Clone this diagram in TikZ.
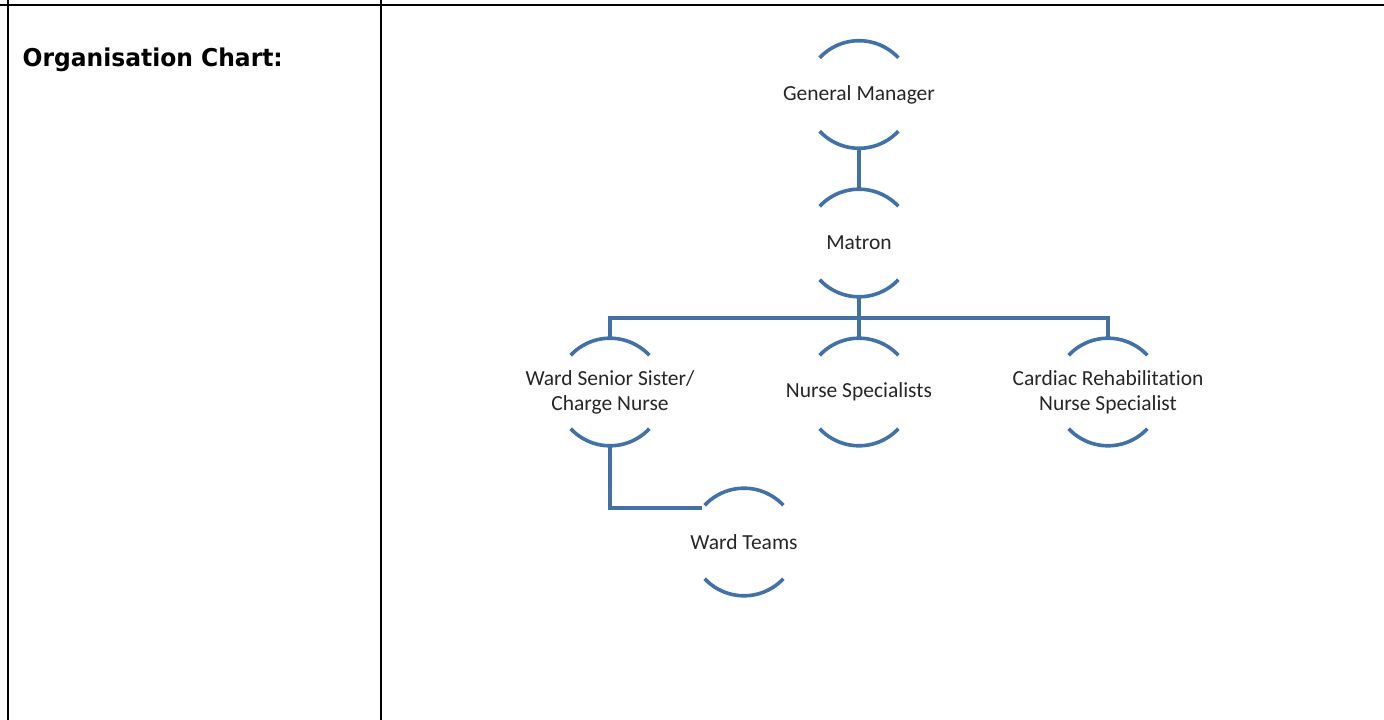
\documentclass[tikz,border=0pt]{standalone}
\usepackage{fontspec}
\newfontfamily\carlito{Carlito}[Ligatures=NoCommon]
\newfontfamily\dvsans{DejaVu Sans}
\definecolor{orgblue}{RGB}{65,113,167}
\definecolor{txtgray}{RGB}{38,38,38}
\tikzset{
  hub/.style={shape=circle, minimum size=107.6pt, inner sep=0pt, outer sep=0pt, draw=none},
  lbl/.style={align=center, text=txtgray, inner sep=0pt, font=\carlito\fontsize{21.5}{25}\selectfont},
  arcline/.style={draw=orgblue, line width=3.6pt},
  link/.style={draw=orgblue, line width=3.4pt},
  rule/.style={draw=black, line width=2.3pt}
}
\newcommand\hubarcs[1]{%
  \draw[arcline] (#1.43) arc[start angle=43, end angle=137, radius=53.8pt];
  \draw[arcline] (#1.-43) arc[start angle=-43, end angle=-137, radius=53.8pt];}
\begin{document}
\begin{tikzpicture}[x=1pt,y=1pt]
\useasboundingbox (0,0) rectangle (1384,720);
% table rules
\coordinate (tl) at (0,714.7);
\coordinate (tr) at (1384,714.7);
\coordinate (l0) at (8.3,0);
\coordinate (l1) at (8.3,720);
\coordinate (m0) at (381.3,0);
\coordinate (m1) at (381.3,720);
\draw[rule] (tl) -- (tr);
\draw[rule] (l0) -- (l1);
\draw[rule] (m0) -- (m1);
\node[anchor=base west, inner sep=0pt, font=\dvsans\bfseries\fontsize{24.5}{28}\selectfont] (title) at (22.5,653) {\scalebox{0.955}[1]{Organisation Chart:}};
% hubs
\node[hub] (gm) at (859,625.5) {};
\node[hub] (mat) at (859,477) {};
\node[hub] (ws) at (610,328) {};
\node[hub] (ns) at (859,328) {};
\node[hub] (cr) at (1108,328) {};
\node[hub] (wt) at (744,178) {};
\hubarcs{gm}\hubarcs{mat}\hubarcs{ws}\hubarcs{ns}\hubarcs{cr}\hubarcs{wt}
\node[lbl] (gmt) at (gm) {General Manager};
\node[lbl] (matt) at (mat) {Matron};
\node[lbl] (wst) at (ws) {Ward Senior Sister/\\Charge Nurse};
\node[lbl] (nst) at (ns) {Nurse Specialists};
\node[lbl] (crt) at (cr) {Cardiac Rehabilitation\\Nurse Specialist};
\node[lbl] (wtt) at (wt) {Ward Teams};
% connectors
\coordinate (bus) at (859,402);
\draw[link] (gm.south) -- (mat.north);
\draw[link] (mat.south) -- (bus);
\draw[link] (ns.north) -- (bus);
\draw[link] (ws.north) -- (ws.north |- bus) -- (cr.north |- bus) -- (cr.north);
\draw[link] (ws.south) |- (wt.141);
\end{tikzpicture}
\end{document}
